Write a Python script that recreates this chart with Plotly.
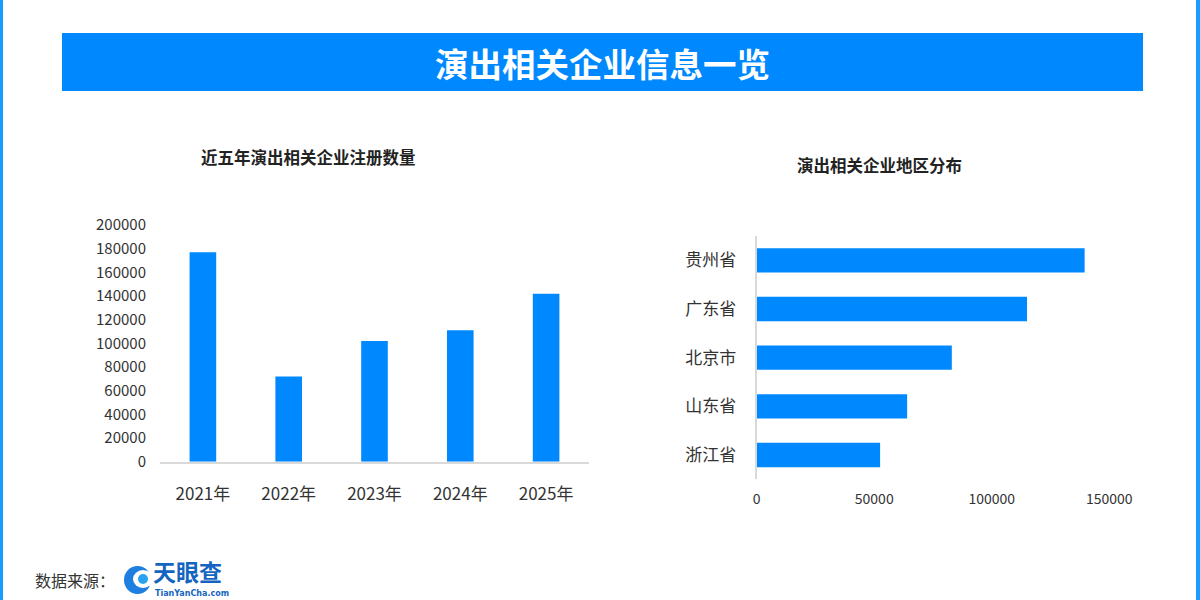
import plotly.graph_objects as go

years = ["2021年", "2022年", "2023年", "2024年", "2025年"]
registrations = [177000, 72000, 102000, 111000, 142000]

regions = ["贵州省", "广东省", "北京市", "山东省", "浙江省"]
region_counts = [139500, 115000, 83000, 64000, 52500]

y_ticks = [0, 20000, 40000, 60000, 80000, 100000, 120000, 140000, 160000, 180000, 200000]
x2_ticks = [0, 50000, 100000, 150000]

BLUE = "#0088ff"
FONT = "Noto Sans CJK SC"
TXT = "#333333"
W, H = 1200, 600

def px(x):
    return x / W

def py(y):
    return 1 - y / H

fig = go.Figure()
fig.add_trace(go.Bar(x=years, y=registrations, marker=dict(color=BLUE, line_width=0),
                     xaxis="x", yaxis="y", showlegend=False, hoverinfo="x+y"))
fig.add_trace(go.Bar(x=region_counts, y=regions, orientation="h", width=0.5,
                     marker=dict(color=BLUE, line_width=0),
                     xaxis="x2", yaxis="y2", showlegend=False, hoverinfo="x+y"))

fig.update_layout(
    width=W, height=H, margin=dict(l=0, r=0, t=0, b=0, pad=0, autoexpand=False),
    paper_bgcolor="white", plot_bgcolor="white", showlegend=False,
    font=dict(family=FONT, color=TXT),
    bargap=0.69,
    xaxis=dict(domain=[px(160), px(589)], showgrid=False, zeroline=False, automargin=False,
               showline=True, linecolor="#d9d9d9", linewidth=2,
               tickfont=dict(size=17, color=TXT), ticklabelstandoff=16, fixedrange=True),
    yaxis=dict(domain=[py(461.7), py(225)], range=[0, 200000], tickvals=y_ticks,
               ticktext=[str(v) for v in y_ticks], showgrid=False, zeroline=False,
               showline=False, automargin=False, tickfont=dict(size=15, color=TXT),
               ticklabelstandoff=13, fixedrange=True),
    xaxis2=dict(domain=[px(756.7), px(1109.3)], range=[0, 150000], tickvals=x2_ticks,
                ticktext=[str(v) for v in x2_ticks], showgrid=False, zeroline=False,
                showline=False, automargin=False, anchor="y2", tickfont=dict(size=14, color=TXT),
                ticklabelstandoff=10, fixedrange=True),
    yaxis2=dict(domain=[py(479.3), py(236)], anchor="x2", autorange="reversed",
                showgrid=False, zeroline=False, showline=True, linecolor="#d9d9d9",
                linewidth=2, automargin=False, tickfont=dict(size=17, color=TXT),
                ticklabelstandoff=15, fixedrange=True),
)

shapes = [
    # side borders
    dict(type="rect", xref="paper", yref="paper", x0=0, x1=px(3), y0=0, y1=1,
         fillcolor="#1a9bff", line_width=0, layer="below"),
    dict(type="rect", xref="paper", yref="paper", x0=px(1196), x1=1, y0=0, y1=1,
         fillcolor="#1a9bff", line_width=0, layer="below"),
    # title bar
    dict(type="rect", xref="paper", yref="paper", x0=px(62), x1=px(1143), y0=py(91), y1=py(33),
         fillcolor=BLUE, line_width=0, layer="below"),
    # logo icon
    dict(type="circle", xref="paper", yref="paper", x0=px(124), x1=px(151), y0=py(594), y1=py(566),
         fillcolor="#1e7fe0", line_width=0),
    dict(type="circle", xref="paper", yref="paper", x0=px(133), x1=px(153), y0=py(588), y1=py(570),
         fillcolor="white", line_width=0),
    dict(type="circle", xref="paper", yref="paper", x0=px(138), x1=px(148), y0=py(584), y1=py(574),
         fillcolor="#29a3f0", line_width=0),
]

annotations = [
    dict(text="<b>演出相关企业信息一览</b>", x=px(602), y=py(63), xref="paper", yref="paper",
         showarrow=False, font=dict(size=33.5, color="white", family=FONT),
         xanchor="center", yanchor="middle"),
    dict(text="<b>近五年演出相关企业注册数量</b>", x=px(308), y=py(157), xref="paper", yref="paper",
         showarrow=False, font=dict(size=16.5, color="#222222", family=FONT),
         xanchor="center", yanchor="middle"),
    dict(text="<b>演出相关企业地区分布</b>", x=px(879), y=py(165), xref="paper", yref="paper",
         showarrow=False, font=dict(size=16.5, color="#222222", family=FONT),
         xanchor="center", yanchor="middle"),
    dict(text="数据来源：", x=px(33), y=py(580), xref="paper", yref="paper",
         showarrow=False, font=dict(size=16, color=TXT, family=FONT),
         xanchor="left", yanchor="middle"),
    dict(text="<b>天眼查</b>", x=px(152), y=py(589), xref="paper", yref="paper",
         showarrow=False, font=dict(size=23, color="#1565c0", family=FONT),
         xanchor="left", yanchor="bottom", borderpad=0),
    dict(text="<b>TianYanCha.com</b>", x=px(154), y=py(588), xref="paper", yref="paper",
         showarrow=False, font=dict(size=8, color="#1565c0", family="DejaVu Sans"),
         xanchor="left", yanchor="top", borderpad=0),
]

fig.update_layout(shapes=shapes, annotations=annotations)
fig.write_html("out.html")
